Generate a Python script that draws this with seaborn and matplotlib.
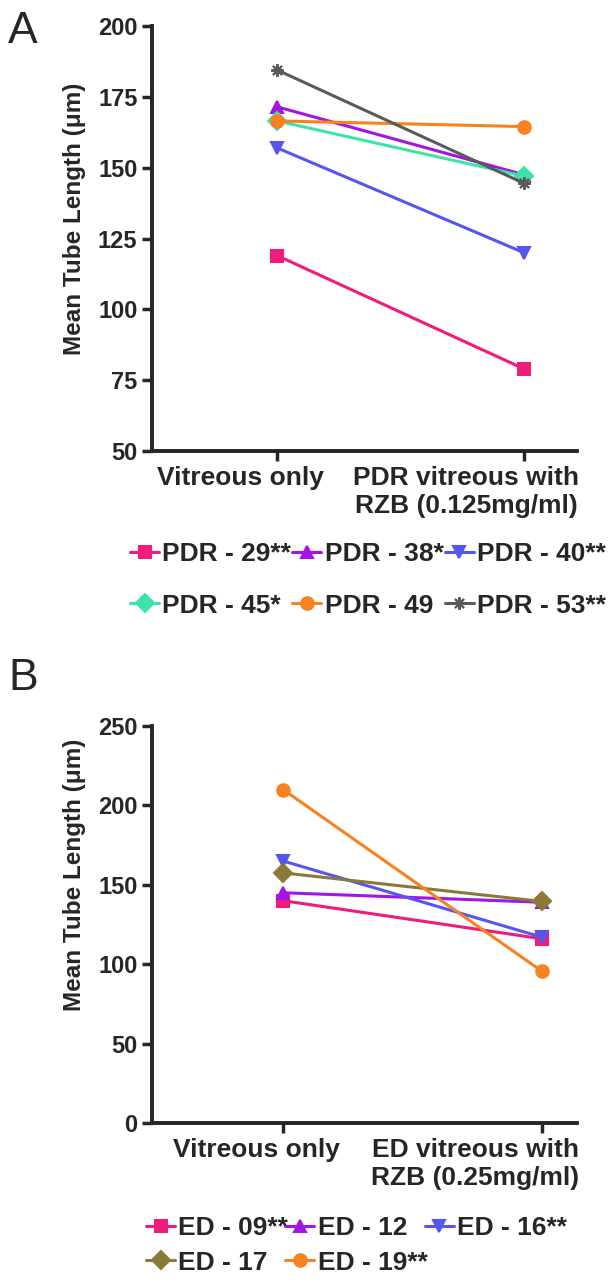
# 硝子体 + RZB による平均チューブ長の変化 (パネル A / B)
import matplotlib
matplotlib.use("Agg")
import pandas as pd
import seaborn as sns
from matplotlib import pyplot as plt
from matplotlib.transforms import ScaledTranslation

sns.set_style("ticks")
plt.rcParams["font.family"] = ["Liberation Sans", "DejaVu Sans"]
plt.rcParams["font.weight"] = "bold"

# -----------------------------------------------------------------
# データ
# -----------------------------------------------------------------
cond_a = ["Vitreous only", "PDR vitreous with\nRZB (0.125mg/ml)"]
samples_a = ["PDR - 29**", "PDR - 38*", "PDR - 40**", "PDR - 45*", "PDR - 49", "PDR - 53**"]
before_a = [119, 171.5, 157, 166.5, 166.5, 184.5]
after_a = [79, 147.5, 120, 147, 164.5, 144.5]

cond_b = ["Vitreous only", "ED vitreous with\nRZB (0.25mg/ml)"]
samples_b = ["ED - 09**", "ED - 12", "ED - 16**", "ED - 17", "ED - 19**"]
before_b = [140, 145, 165, 157.5, 210]
after_b = [116, 139, 117, 139.5, 95.5]

colors_a = ["#EE1C7B", "#A414E4", "#5656EE", "#3EE3A8", "#F7821F", "#5A5A5A"]
markers_a = ["s", "^", "v", "D", "o", (8, 2, 0)]
colors_b = ["#EE1C7B", "#A414E4", "#5656EE", "#8A7A3A", "#F7821F"]
markers_b = ["s", "^", "v", "D", "o"]


def long_df(samples, cond, before, after):
    rows = []
    for s, b, a in zip(samples, before, after):
        rows.append({"sample": s, "cond": cond[0], "length": b})
        rows.append({"sample": s, "cond": cond[1], "length": a})
    return pd.DataFrame(rows)


df_a = long_df(samples_a, cond_a, before_a, after_a)
df_b = long_df(samples_b, cond_b, before_b, after_b)

W, H = 616, 1282
fig = plt.figure(figsize=(W / 100, H / 100), dpi=100)
ax_a = fig.add_axes([152 / W, 1 - 451 / H, 425 / W, 425 / H])
ax_b = fig.add_axes([152 / W, 1 - 1123 / H, 425 / W, 397 / H])


def draw(ax, df, samples, colors, markers, cond, ylim, yticks, xlim, shifts,
         label_y, leg_x, leg_y, leg_space, col_space):
    sns.lineplot(
        data=df, x="cond", y="length", hue="sample",
        hue_order=samples, palette=dict(zip(samples, colors)),
        marker="o", legend=False, ax=ax, linewidth=2.2, markersize=9,
    )
    # アスタリスク型マーカーは seaborn で混在できないので後から設定
    for line, m in zip(ax.lines, markers):
        line.set_marker(m)
        line.set_markeredgecolor(line.get_color())
        line.set_markeredgewidth(1.5)
    ax.set_xlim(*xlim)
    ax.set_ylim(*ylim)
    ax.set_yticks(yticks)
    ax.set_xticks([0, 1])
    ax.tick_params(axis="y", labelsize=17, length=7, width=2.5)
    ax.tick_params(axis="x", length=7, width=2.5, pad=4)
    ax.set_xticklabels(cond, fontsize=19, fontweight="bold")
    for lab, dx in zip(ax.get_xticklabels(), shifts):
        lab.set_transform(lab.get_transform() + ScaledTranslation(dx / 100, 0, fig.dpi_scale_trans))
    for lab in ax.get_yticklabels():
        lab.set_fontweight("bold")
    sns.despine(ax=ax)
    for sp in ["left", "bottom"]:
        ax.spines[sp].set_linewidth(2.8)
    ax.set_xlabel("")
    ax.set_ylabel("Mean Tube Length (\u03bcm)", fontsize=17.5, fontweight="bold")
    ax.yaxis.set_label_coords(-0.155, label_y)

    # 凡例は行方向に並べる (matplotlib は列方向に詰めるので並べ替え)
    ncol = 3
    nrow = -(-len(samples) // ncol)
    order = [r * ncol + c for c in range(ncol) for r in range(nrow) if r * ncol + c < len(samples)]
    ax.legend(
        handles=[ax.lines[i] for i in order], labels=[samples[i] for i in order],
        ncol=ncol, frameon=False,
        loc="upper left", bbox_to_anchor=(leg_x / W, 1 - leg_y / H),
        bbox_transform=fig.transFigure,
        prop={"size": 19, "weight": "bold"},
        handlelength=1.1, handletextpad=0.12, columnspacing=col_space,
        labelspacing=leg_space, borderpad=0, borderaxespad=0,
    )


draw(ax_a, df_a, samples_a, colors_a, markers_a, cond_a, (50, 200),
     [50, 75, 100, 125, 150, 175, 200], (-0.506, 1.215), [-37, -58],
     0.546, 130, 542, 1.05, 0.05)
draw(ax_b, df_b, samples_b, colors_b, markers_b, cond_b, (0, 250),
     [0, 50, 100, 150, 200, 250], (-0.506, 1.135), [-27, -67],
     0.625, 146, 1216, 0.4, -0.1)

fig.text(8 / W, 1 - 43 / H, "A", fontsize=32, fontweight="normal")
fig.text(8 / W, 1 - 690 / H, "B", fontsize=32, fontweight="normal")

fig.savefig("out.png", dpi=100)
